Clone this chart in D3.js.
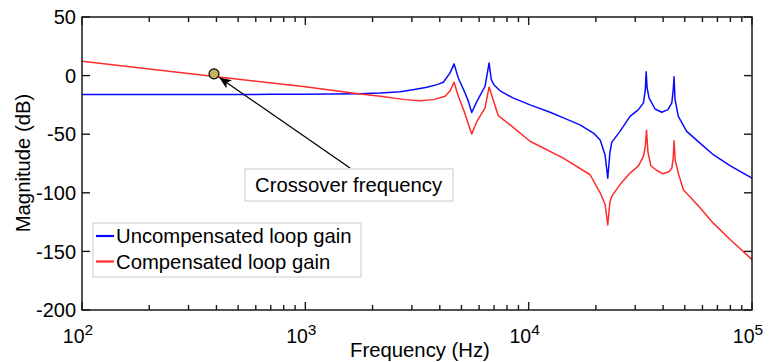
<!DOCTYPE html>
<html>
<head>
<meta charset="utf-8">
<script src="https://cdn.jsdelivr.net/npm/d3@7"></script>
<style>
  body { margin: 0; background: #fff; }
  svg { display: block; font-family: "Liberation Sans", Arial, Helvetica, sans-serif; }
</style>
</head>
<body>
<svg width="770" height="362"></svg>
<script>
// uncompensated loop gain (blue)
var freqUncomp = [100, 200, 400, 700, 1000, 1722, 2168, 2655, 3034, 3500, 3890, 4150, 4446, 4634, 4842, 5190, 5373, 5560, 5866, 6380, 6650, 6800, 7000, 7450, 8500, 10140, 12470, 14500, 16980, 19500, 20900, 22000, 22600, 23100, 23550, 25640, 28440, 31000, 32650, 33300, 33580, 33900, 34580, 36800, 39440, 42000, 43750, 44400, 44770, 45200, 46770, 51000, 58000, 67100, 80000, 100000];
var magUncomp = [-16.2, -16.1, -16.1, -16, -15.9, -15.4, -14.8, -13.8, -12, -10, -7.7, -5.7, 2.3, 10, -2, -14.8, -22, -31.5, -22, -9.1, 10.8, -3.4, -8, -13, -19, -25, -31.3, -36.5, -42, -49, -55, -68, -87.5, -66, -57, -47.6, -34.8, -29, -23.3, -12, 3.2, -10, -19, -28.5, -31.3, -29, -23.3, -12, -1, -20, -34.8, -47.6, -57, -67.5, -77, -87.4];

// compensated loop gain (red)
var freqComp = [100, 400, 1000, 1722, 2168, 2800, 3266, 3741, 4227, 4450, 4634, 4842, 5106, 5560, 5866, 6380, 6650, 7310, 8500, 10140, 14290, 18840, 20900, 22000, 22600, 23100, 23550, 25640, 28440, 31000, 32650, 33300, 33700, 34200, 35240, 37500, 39900, 42500, 43750, 44400, 44770, 45300, 46770, 49300, 58000, 67100, 80000, 100000];
var magComp = [12.2, -1, -9.5, -15.4, -17.7, -20.5, -21.4, -20.5, -17.7, -13, -5.7, -17.7, -29, -49.8, -39, -27.6, -9.7, -34.2, -44, -56, -70.4, -84.6, -100, -110, -127.4, -108, -103, -93, -83.2, -77, -69, -60, -46.7, -65, -76.9, -81, -83.8, -82, -78.9, -70, -55.6, -72, -83.2, -97.4, -112, -125.9, -140, -157];

var xTicks = [100, 1000, 10000, 100000];
var yTicks = [50, 0, -50, -100, -150, -200];
var seriesNames = ["Uncompensated loop gain", "Compensated loop gain"];
var seriesColors = ["#0a0aff", "#ff2b2b"];
var crossover = [390, 1.5];
var noteText = "Crossover frequency";

(function() {
  var svg = d3.select("svg");
  var pLeft = 82, pRight = 752, pTop = 17, pBottom = 310;

  var x = d3.scaleLog().domain([100, 100000]).range([pLeft, pRight]);
  var y = d3.scaleLinear().domain([-200, 50]).range([pBottom, pTop]);

  var defs = svg.append("defs");
  defs.append("clipPath").attr("id", "plotclip")
    .append("rect").attr("x", pLeft).attr("y", pTop).attr("width", pRight - pLeft).attr("height", pBottom - pTop);

  defs.append("marker")
    .attr("id", "head")
    .attr("viewBox", "0 0 12 10")
    .attr("refX", 12).attr("refY", 5)
    .attr("markerWidth", 12).attr("markerHeight", 10)
    .attr("markerUnits", "userSpaceOnUse")
    .attr("orient", "auto")
    .append("path").attr("d", "M0,0 L12,5 L0,10 L3,5 Z").attr("fill", "#000");

  // lines
  var line = d3.line()
    .x(function(d) { return x(d[0]); })
    .y(function(d) { return y(d[1]); });

  var series = [d3.zip(freqUncomp, magUncomp), d3.zip(freqComp, magComp)];
  var plot = svg.append("g").attr("clip-path", "url(#plotclip)");
  plot.selectAll("path.series")
    .data(series)
    .enter().append("path")
    .attr("class", "series")
    .attr("d", line)
    .attr("fill", "none")
    .attr("stroke", function(d, i) { return seriesColors[i]; })
    .attr("stroke-width", 1.5)
    .attr("stroke-linejoin", "round");

  // frame and ticks
  var axisColor = "#1a1a1a";
  svg.append("rect")
    .attr("x", pLeft).attr("y", pTop).attr("width", pRight - pLeft).attr("height", pBottom - pTop)
    .attr("fill", "none").attr("stroke", axisColor).attr("stroke-width", 1.5);

  var minor = [];
  xTicks.slice(0, -1).forEach(function(t) {
    for (var k = 2; k < 10; k++) minor.push(t * k);
  });
  var tickG = svg.append("g").attr("stroke", axisColor).attr("stroke-width", 1.4);
  minor.forEach(function(t) {
    tickG.append("line").attr("x1", x(t)).attr("x2", x(t)).attr("y1", pBottom).attr("y2", pBottom - 5);
    tickG.append("line").attr("x1", x(t)).attr("x2", x(t)).attr("y1", pTop).attr("y2", pTop + 5);
  });
  xTicks.forEach(function(t) {
    tickG.append("line").attr("x1", x(t)).attr("x2", x(t)).attr("y1", pBottom).attr("y2", pBottom - 8);
    tickG.append("line").attr("x1", x(t)).attr("x2", x(t)).attr("y1", pTop).attr("y2", pTop + 8);
  });
  yTicks.forEach(function(t) {
    tickG.append("line").attr("x1", pLeft).attr("x2", pLeft + 8).attr("y1", y(t)).attr("y2", y(t));
    tickG.append("line").attr("x1", pRight).attr("x2", pRight - 8).attr("y1", y(t)).attr("y2", y(t));
  });

  // tick labels
  svg.append("g").selectAll("text")
    .data(yTicks)
    .enter().append("text")
    .attr("x", pLeft - 6)
    .attr("y", function(d) { return y(d); })
    .attr("dy", "0.36em")
    .attr("text-anchor", "end")
    .attr("font-size", 20)
    .text(function(d) { return d; });

  var xl = svg.append("g").selectAll("text")
    .data(xTicks)
    .enter().append("text")
    .attr("x", function(d) { return x(d) - 4; })
    .attr("y", 343)
    .attr("text-anchor", "middle")
    .attr("font-size", 19.5);
  xl.append("tspan").text("10");
  xl.append("tspan").attr("dy", -8).attr("font-size", 15.5)
    .text(function(d) { return Math.round(Math.log10(d)); });

  // axis titles
  svg.append("text")
    .attr("x", 420).attr("y", 357)
    .attr("text-anchor", "middle")
    .attr("font-size", 20.3)
    .text("Frequency (Hz)");
  svg.append("text")
    .attr("transform", "translate(30,163) rotate(-90)")
    .attr("text-anchor", "middle")
    .attr("font-size", 20.3)
    .text("Magnitude (dB)");

  // legend
  var lg = svg.append("g");
  lg.append("rect")
    .attr("x", 93).attr("y", 223).attr("width", 268).attr("height", 54)
    .attr("fill", "#fff").attr("stroke", "#dcdcdc").attr("stroke-width", 1.5);
  seriesNames.forEach(function(name, i) {
    var cy = 236 + i * 25.5;
    lg.append("line").attr("x1", 96).attr("x2", 114).attr("y1", cy).attr("y2", cy)
      .attr("stroke", seriesColors[i]).attr("stroke-width", 2.2);
    lg.append("text").attr("x", 116).attr("y", cy).attr("dy", "0.36em")
      .attr("font-size", 20.3).text(name);
  });

  // crossover annotation
  var mx = x(crossover[0]), my = y(crossover[1]);
  var sx = 350, sy = 168;
  var ang = Math.atan2(sy - my, sx - mx), r = 5;
  svg.append("line")
    .attr("x1", sx).attr("y1", sy)
    .attr("x2", mx + Math.cos(ang) * (r + 1.5)).attr("y2", my + Math.sin(ang) * (r + 1.5))
    .attr("stroke", "#000").attr("stroke-width", 1.3)
    .attr("marker-end", "url(#head)");
  svg.append("circle")
    .attr("cx", mx).attr("cy", my).attr("r", r)
    .attr("fill", "#c4b25c").attr("stroke", "#000").attr("stroke-width", 1.2);

  svg.append("rect")
    .attr("x", 245).attr("y", 169).attr("width", 208).attr("height", 32)
    .attr("fill", "#fff").attr("stroke", "#dcdcdc").attr("stroke-width", 1.5);
  svg.append("text")
    .attr("x", 255).attr("y", 192)
    .attr("font-size", 20.3)
    .text(noteText);
})();
</script>
</body>
</html>
